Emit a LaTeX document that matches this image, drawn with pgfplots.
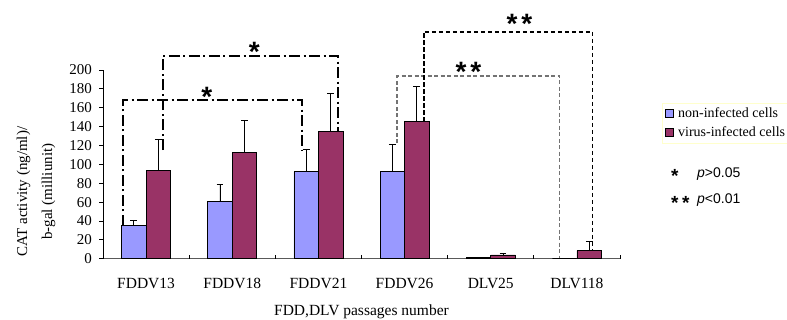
\documentclass[border=0pt]{standalone}
\usepackage{fontspec}
\setmainfont{Liberation Serif}
\newfontfamily\arial{Liberation Sans}
\usepackage{pgfplots}
\pgfplotsset{compat=1.18}
\definecolor{cblue}{HTML}{9999FF}
\definecolor{cred}{HTML}{993366}
\definecolor{lgd}{HTML}{FFFFCC}
\begin{document}
\begin{tikzpicture}
\path[use as bounding box] (-103pt,-61.3pt) rectangle (684pt,258.7pt);
\begin{axis}[
  scale only axis, width=517pt, height=188.7pt,
  at={(0,0)}, anchor=south west,
  xmin=-0.5, xmax=5.5, ymin=0, ymax=200,
  ybar=0pt, bar width=24.5pt,
  axis x line*=bottom, axis y line*=left,
  axis line style={-, line width=0.8pt},
  x axis line style={draw=black!65},
  clip=false,
  tick style={draw=none}, major tick length=0pt,
  xtick={0,...,5},
  xticklabels={FDDV13,FDDV18,FDDV21,FDDV26,DLV25,DLV118},
  ytick={0,20,...,200},
  /pgf/number format/assume math mode=true,
  xticklabel style={font=\fontsize{15.5}{15.5}\selectfont, anchor=base, yshift=-29.5pt, inner sep=0pt},
  yticklabel style={font=\fontsize{15}{15}\selectfont, anchor=east, inner sep=0pt, xshift=-11pt},
  xlabel={FDD,DLV passages number},
  xlabel style={font=\fontsize{15.5}{15.5}\selectfont, at={(axis description cs:0.5,0)}, anchor=base, yshift=-56.5pt, inner sep=0pt},
  ylabel={CAT activity (ng/ml)/\\b-gal (milliunit)},
  ylabel style={font=\fontsize{15}{25}\selectfont, align=center, at={(axis description cs:-0.1296,0.355)}, anchor=center},
  legend style={at={(axis description cs:1.0812,0.826)}, anchor=north west,
    draw=lgd, line width=0.8pt, font=\fontsize{14}{14}\selectfont,
    inner sep=3pt, row sep=5pt, nodes={inner sep=1.5pt}, cells={anchor=west}},
  legend image code/.code={\draw[#1,draw=black,line width=0.6pt] (0pt,-4pt) rectangle (8pt,4pt);
    \path[draw=none,fill=none] (0pt,0pt) -- (11pt,0pt);},
  error bars/y dir=plus, error bars/y explicit,
  error bars/error bar style={black, line width=0.8pt},
  error bars/error mark options={black, line width=0.8pt, mark size=3.4pt, rotate=90},
]
\addplot[fill=cblue, draw=black, line width=0.8pt] coordinates {
  (0,35) +- (0,5.5)
  (1,61) +- (0,18)
  (2,92) +- (0,24)
  (3,92) +- (0,29)
  (4,1)  +- (0,0)
  (5,0)  +- (0,0)
};
\addplot[fill=cred, draw=black, line width=0.8pt] coordinates {
  (0,94)  +- (0,32)
  (1,113) +- (0,34)
  (2,135) +- (0,40)
  (3,145) +- (0,38)
  (4,4)   +- (0,2)
  (5,8.5) +- (0,9.5)
};
\legend{non-infected cells, virus-infected cells}
% category boundary ticks
\pgfplotsinvokeforeach{-0.5,0.5,1.5,2.5,3.5,4.5,5.5}{
  \draw[black, line width=0.8pt] (axis cs:#1,0) -- ++(0pt,4pt);
}
\pgfplotsinvokeforeach{0,20,40,60,80,100,120,140,160,180,200}{
  \draw[black, line width=0.8pt] (axis cs:-0.5,#1) -- ++(-4pt,0pt);
}
% significance brackets
\draw[black, line width=1.3pt, dash pattern=on 11pt off 3.5pt on 2pt off 3.5pt]
  (axis cs:-0.268,34.7) -- (axis cs:-0.268,168.2) -- (axis cs:1.809,168.2) -- (axis cs:1.809,115.2);
\draw[black, line width=1.3pt, dash pattern=on 11pt off 3.5pt on 2pt off 3.5pt]
  (axis cs:0.196,115.2) -- (axis cs:0.196,214.8) -- (axis cs:2.227,214.8) -- (axis cs:2.227,135.3);
\draw[black!55, line width=1.1pt, dash pattern=on 4pt off 2.5pt]
  (axis cs:2.912,122.6) -- (axis cs:2.912,193.6) -- (axis cs:4.803,193.6) -- (axis cs:4.803,0.7);
\draw[black, line width=1.1pt, dash pattern=on 4.5pt off 2.5pt]
  (axis cs:3.225,144.9) -- (axis cs:3.225,240.3) -- (axis cs:5.186,240.3) -- (axis cs:5.186,8.2);
\end{axis}
% stars on brackets
\begin{scope}[every node/.style={inner sep=0pt, anchor=base, font=\arial\bfseries\fontsize{28}{28}\selectfont}]
\node at (103.7pt,152.6pt) {*};
\node at (151.3pt,197.6pt) {*};
\node at (365.5pt,177.6pt) {*\hspace{4pt}*};
\node at (416.5pt,225.6pt) {*\hspace{4pt}*};
\end{scope}
% p-value key
\node[inner sep=0pt, anchor=base west, font=\arial\bfseries\fontsize{19}{19}\selectfont] at (568pt,75.8pt) {*};
\node[inner sep=0pt, anchor=base west, font=\arial\fontsize{14}{14}\selectfont] at (594pt,81pt) {\textit{p}>0.05};
\node[inner sep=0pt, anchor=base west, font=\arial\bfseries\fontsize{19}{19}\selectfont] at (568pt,48.8pt) {*\hspace{3.5pt}*};
\node[inner sep=0pt, anchor=base west, font=\arial\fontsize{14}{14}\selectfont] at (594pt,54.7pt) {\textit{p}<0.01};
\end{tikzpicture}
\end{document}
